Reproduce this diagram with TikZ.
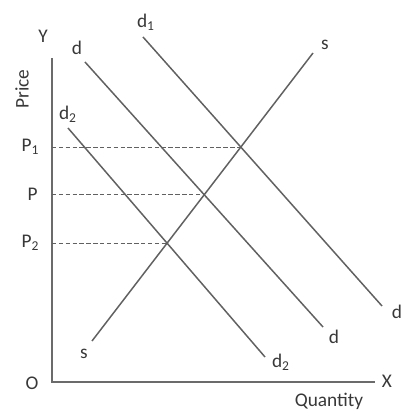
\documentclass[tikz,border=0pt]{standalone}
\usepackage{fontspec}
\setmainfont{Carlito}
\usetikzlibrary{calc}

\begin{document}
\begin{tikzpicture}[
        x=0.02cm, y=-0.02cm,
        curve/.style={draw=black!62, line width=0.85pt},
        axis/.style={draw=black!58, line width=1pt},
        dashline/.style={draw=black!62, line width=0.6pt, dash pattern=on 2.5pt off 1.4pt},
        lbl/.style={inner sep=0pt, text=black!78, font=\fontsize{11}{13}\selectfont}
    ]
    \useasboundingbox (0,0) rectangle (404,411);
    % axes
    \coordinate (o) at (52,382);
    \coordinate (ytop) at (52,58);
    \coordinate (xend) at (375,382);
    \draw[axis] (ytop) -- (o) -- (xend);
    \node[lbl] (ylab) at (43,36) {Y};
    \node[lbl] (xlab) at (387,381) {X};
    \node[lbl] (olab) at (32,383) {O};
    \node[lbl] (qlab) at (329,401) {Quantity};
    \node[lbl, rotate=90] (plab) at (22,89) {Price};
    % demand and supply curves
    \coordinate (dA) at (85,62);   \coordinate (dB) at (323,327);
    \coordinate (dIa) at (143,37); \coordinate (dIb) at (382,306);
    \coordinate (dIIa) at (68,128); \coordinate (dIIb) at (265,357);
    \coordinate (sA) at (92,341);  \coordinate (sB) at (313,53);
    \draw[curve] (dA) -- (dB);
    \draw[curve] (dIa) -- (dIb);
    \draw[curve] (dIIa) -- (dIIb);
    \draw[curve] (sA) -- (sB);
    \node[lbl] (dAlab) at (77,48) {d};
    \node[lbl] (dBlab) at (334,337) {d};
    \node[lbl] (dIalab) at (146,22) {d\textsubscript{1}};
    \node[lbl] (dIblab) at (397,312) {d};
    \node[lbl] (dIIalab) at (68,114) {d\textsubscript{2}};
    \node[lbl] (dIIblab) at (281,362) {d\textsubscript{2}};
    \node[lbl] (sAlab) at (84,354) {s};
    \node[lbl] (sBlab) at (325,45) {s};
    % equilibrium points
    \coordinate (eI) at (intersection of dIa--dIb and sA--sB);
    \coordinate (e) at (intersection of dA--dB and sA--sB);
    \coordinate (eII) at (intersection of dIIa--dIIb and sA--sB);
    \draw[dashline] (eI -| o) -- (eI);
    \draw[dashline] (e -| o) -- (e);
    \draw[dashline] (eII -| o) -- (eII);
    \node[lbl, left=7pt] (pIlab) at (eI -| o) {P\textsubscript{1}};
    \node[lbl, left=8pt] (plab0) at (e -| o) {P};
    \node[lbl, left=7pt] (pIIlab) at (eII -| o) {P\textsubscript{2}};
\end{tikzpicture}
\end{document}
